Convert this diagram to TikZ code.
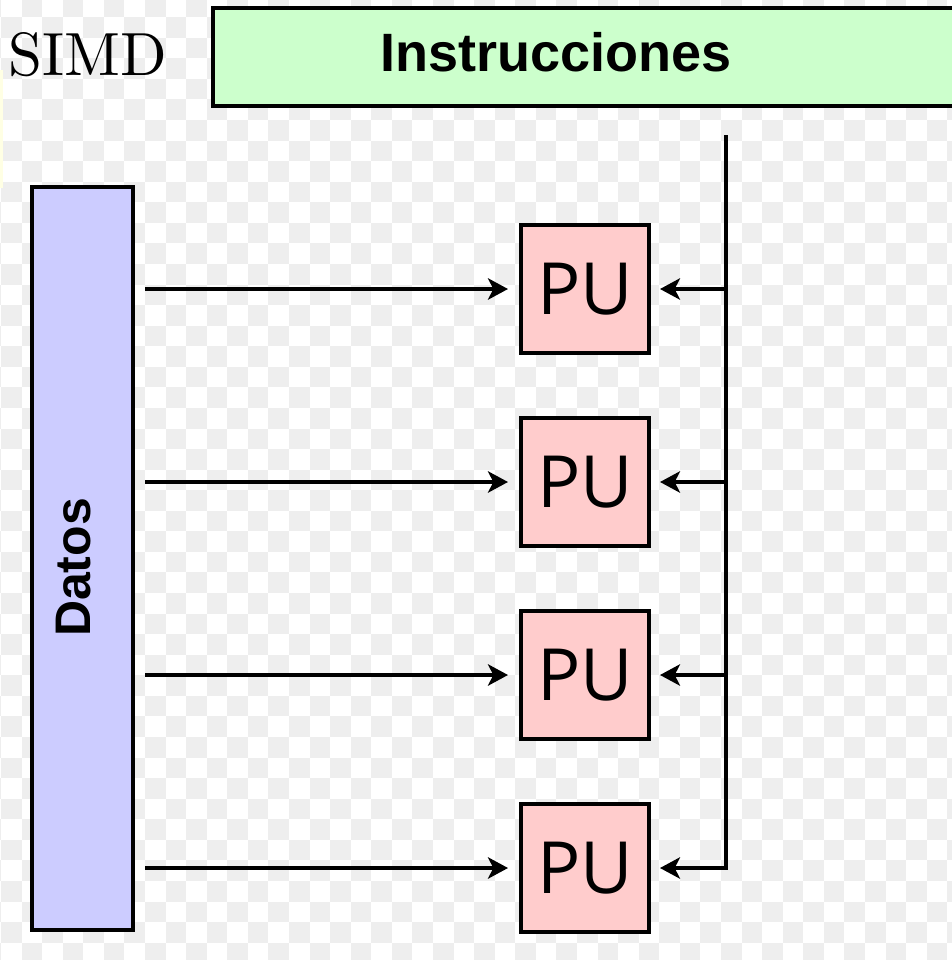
\documentclass[tikz,border=0pt]{standalone}
\usepackage{fontspec}
\usetikzlibrary{arrows.meta}
\newfontfamily\arialfont{Liberation Sans}
\newfontfamily\pufont{Open Sans}
\newfontfamily\lmten{lmroman10-regular}[Extension=.otf]
\definecolor{checker}{RGB}{238,238,238}
\definecolor{instfill}{RGB}{204,255,204}
\definecolor{datafill}{RGB}{204,204,255}
\definecolor{pufill}{RGB}{255,204,204}
\definecolor{edgeyellow}{RGB}{255,255,228}
\tikzset{
  boxstyle/.style={draw=black, line width=3pt, inner sep=0pt, outer sep=0pt},
  pubox/.style={boxstyle, fill=pufill, minimum width=96pt, minimum height=96pt,
    font=\pufont\fontsize{54pt}{60pt}\selectfont},
  labelsans/.style={font=\arialfont\bfseries\fontsize{#1}{#1}\selectfont, inner sep=0pt},
  conn/.style={line width=2.7pt, line join=miter},
  arr/.style={conn, -{Stealth[length=15pt, width=16pt, inset=4pt]}},
}
\begin{document}
\begin{tikzpicture}[x=0.75pt, y=-0.75pt]
\useasboundingbox (0,0) rectangle (952,960);
% transparency checkerboard background
\foreach \j in {-1,...,46}{
  \pgfmathtruncatemacro\st{mod(\j+2,2)}
  \foreach \i in {-2,0,...,46}{
    \fill[checker] ({1+(\i+\st)*20.57},{17.1+\j*20.57}) rectangle ++(20.57,20.57);
  }
}
\fill[edgeyellow] (0,70) rectangle (3,188);
% title
\node[anchor=base, inner sep=0pt, font=\lmten\fontsize{45.75pt}{50pt}\selectfont] (simd) at (88,75) {SIMD};
% instruction stream box
\node[boxstyle, fill=instfill, minimum width=560.25pt, minimum height=73.5pt] (instrbox) at (586.5,57) {};
\node[labelsans=40.5pt, anchor=base] (instr) at (556,71.7) {Instrucciones};
% data stream box
\node[boxstyle, fill=datafill, minimum width=75.75pt, minimum height=557.25pt] (datosbox) at (82.5,558.5) {};
\node[labelsans=37.5pt, anchor=base, rotate=90] (datos) at (90,567.5) {Datos};
% processing units
\node[pubox] (pu1) at (585,289) {PU};
\node[pubox] (pu2) at (585,482) {PU};
\node[pubox] (pu3) at (585,675) {PU};
\node[pubox] (pu4) at (585,868) {PU};
% instruction bus
\coordinate (bustop) at (726,135);
\draw[arr, shorten >=8.25pt] (bustop) |- (pu4.east);
\foreach \p in {pu1,pu2,pu3}{
  \draw[arr, shorten >=8.25pt] (bustop |- \p.east) -- (\p.east);
}
% data arrows
\foreach \p in {pu1,pu2,pu3,pu4}{
  \draw[arr, shorten <=9pt, shorten >=9.75pt] (datosbox.east |- \p.west) -- (\p.west);
}
\end{tikzpicture}
\end{document}
